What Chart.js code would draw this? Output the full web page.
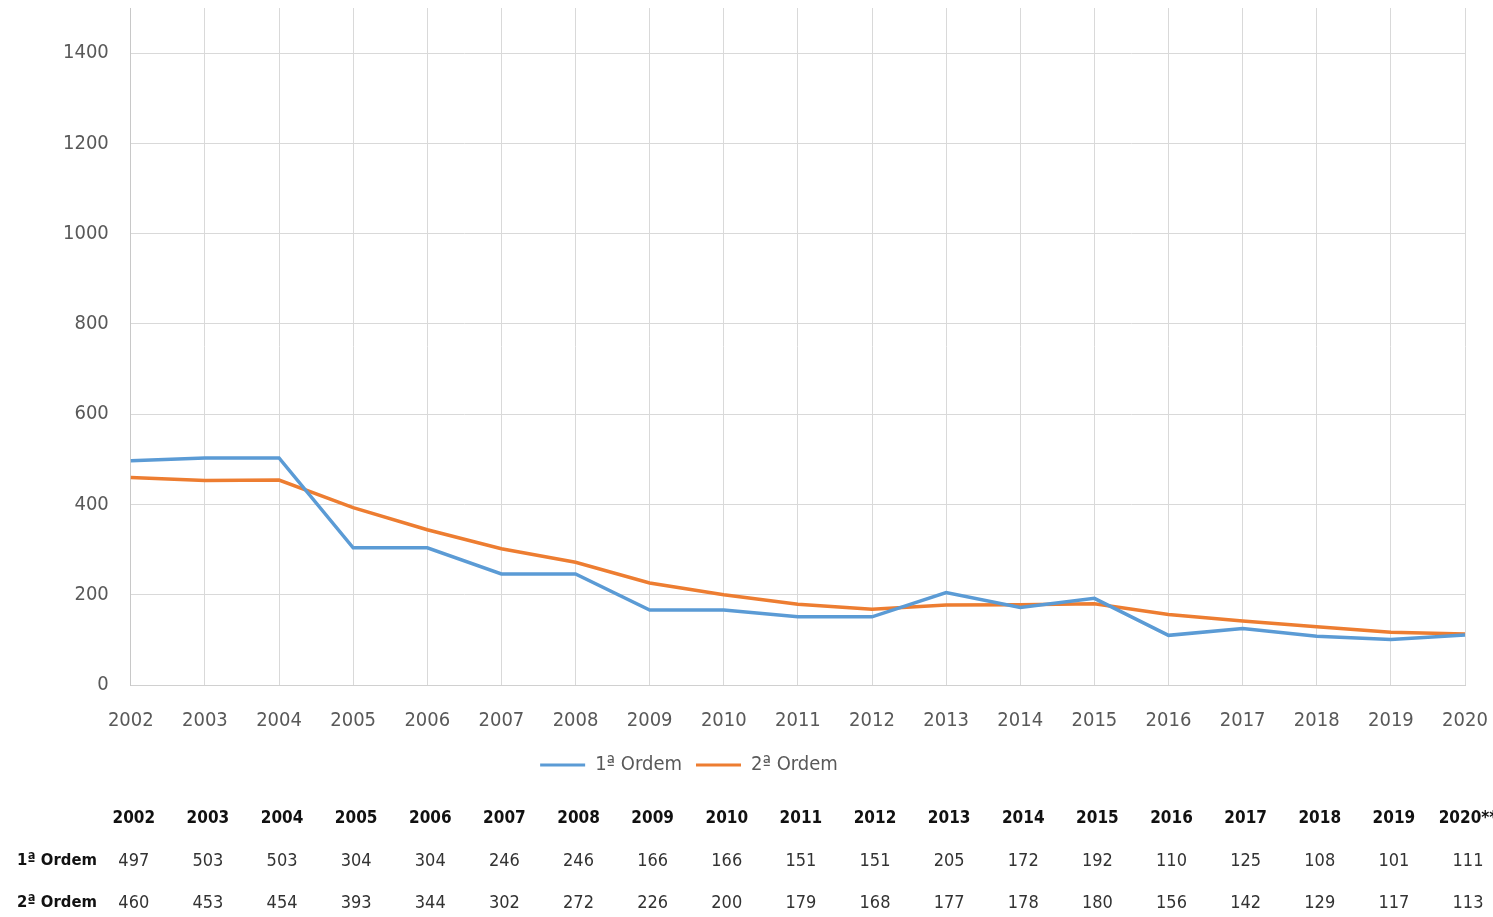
<!DOCTYPE html>
<html>
<head>
<meta charset="utf-8">
<script src="https://cdn.jsdelivr.net/npm/chart.js@4"></script>
<style>
html,body{margin:0;padding:0;background:#fff;}
#wrap{width:1493px;height:917px;position:relative;}
</style>
</head>
<body>
<div id="wrap"><canvas id="c" width="1493" height="917"></canvas></div>
<script>
const categories = ['2002','2003','2004','2005','2006','2007','2008','2009','2010','2011','2012','2013','2014','2015','2016','2017','2018','2019','2020'];
const tableHeaders = ['2002','2003','2004','2005','2006','2007','2008','2009','2010','2011','2012','2013','2014','2015','2016','2017','2018','2019','2020**'];
const seriesNames = ['1ª Ordem','2ª Ordem'];
const primeiraOrdem = [497,503,503,304,304,246,246,166,166,151,151,205,172,192,110,125,108,101,111];
const segundaOrdem = [460,453,454,393,344,302,272,226,200,179,168,177,178,180,156,142,129,117,113];

const FONT = "'DejaVu Sans Condensed','Liberation Sans Narrow','Liberation Sans',sans-serif";

const tablePlugin = {
  id: 'dataTable',
  afterLayout(chart) {
    // place legend where the reference has it
    if (chart.legend) {
      chart.legend.left -= 64; chart.legend.right -= 64;
      chart.legend.top -= 16; chart.legend.bottom -= 16;
    }
  },
  afterDraw(chart) {
    const ctx = chart.ctx;
    const x = chart.scales.x;
    ctx.save();
    ctx.textBaseline = 'middle';
    const rows = [
      {y: 819, label: null, vals: tableHeaders, bold: true, color: '#111'},
      {y: 861, label: seriesNames[0], vals: primeiraOrdem, bold: false, color: '#333'},
      {y: 903, label: seriesNames[1], vals: segundaOrdem, bold: false, color: '#333'}
    ];
    rows.forEach(r => {
      if (r.label) {
        ctx.font = 'bold 16.5px ' + FONT;
        ctx.fillStyle = '#111';
        ctx.textAlign = 'left';
        ctx.fillText(r.label, 17, r.y);
      }
      ctx.font = (r.bold ? 'bold 17px ' : '18px ') + FONT;
      ctx.fillStyle = r.color;
      ctx.textAlign = 'center';
      r.vals.forEach((v, i) => {
        const px = x.getPixelForValue(i) + 3;
        ctx.fillText(String(v), px, r.y);
      });
    });
    ctx.restore();
  }
};

new Chart(document.getElementById('c'), {
  type: 'line',
  data: {
    labels: categories,
    datasets: [
      {label: seriesNames[0], data: primeiraOrdem, borderColor: '#5B9BD5', backgroundColor: '#5B9BD5', borderWidth: 3.5, pointRadius: 0, tension: 0, fill: false},
      {label: seriesNames[1], data: segundaOrdem, borderColor: '#ED7D31', backgroundColor: '#ED7D31', borderWidth: 3.5, pointRadius: 0, tension: 0, fill: false}
    ]
  },
  options: {
    responsive: false,
    animation: false,
    layout: {padding: {top: 8, right: 28, left: 41, bottom: 116}},
    plugins: {
      legend: {
        position: 'bottom',
        labels: {
          boxWidth: 45, boxHeight: 3, padding: 14,
          color: '#595959',
          font: {family: FONT, size: 20},
          generateLabels(chart) {
            return chart.data.datasets.map((d, i) => ({
              text: d.label, fillStyle: d.borderColor, strokeStyle: d.borderColor,
              lineWidth: 0, datasetIndex: i, fontColor: '#595959'
            }));
          }
        }
      },
      tooltip: {enabled: false}
    },
    scales: {
      x: {
        offset: false,
        afterFit(s) { s.paddingLeft = 0; s.paddingRight = 0; },
        grid: {color: '#d9d9d9', lineWidth: 1, drawTicks: false},
        border: {color: '#d0d0d0'},
        ticks: {color: '#595959', font: {family: FONT, size: 20}, padding: 24, maxRotation: 0, autoSkip: false}
      },
      y: {
        min: 0, max: 1500,
        afterBuildTicks(axis) { axis.ticks = axis.ticks.filter(t => t.value % 200 === 0); },
        afterFit(s) { s.paddingTop = 0; s.paddingBottom = 0; },
        grid: {color: '#d9d9d9', lineWidth: 1, drawTicks: false},
        border: {color: '#c8c8c8'},
        ticks: {stepSize: 200, color: '#595959', font: {family: FONT, size: 20}, padding: 22,
          callback: (v) => String(v)}
      }
    }
  },
  plugins: [tablePlugin]
});
</script>
</body>
</html>
